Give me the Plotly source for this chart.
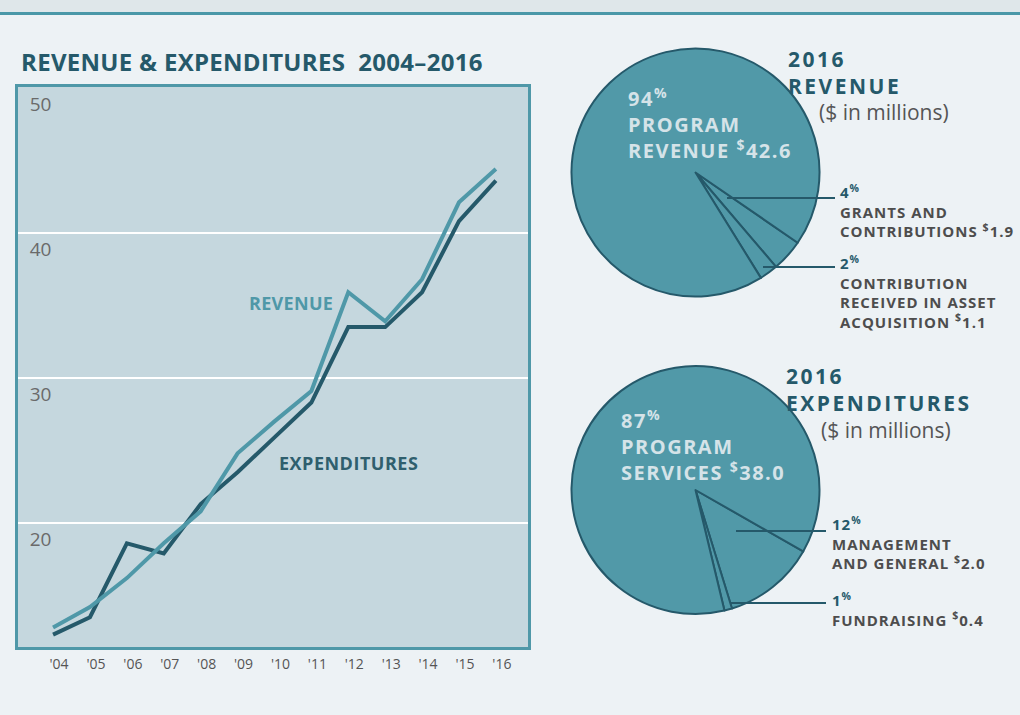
import plotly.graph_objects as go

# ---------------- data ----------------
years = [2004, 2005, 2006, 2007, 2008, 2009, 2010, 2011, 2012, 2013, 2014, 2015, 2016]
year_labels = ["'04", "'05", "'06", "'07", "'08", "'09", "'10", "'11", "'12", "'13", "'14", "'15", "'16"]
revenue = [12.8, 14.2, 16.2, 18.6, 20.8, 24.8, 27.0, 29.1, 35.9, 33.9, 36.8, 42.1, 44.4]
expenditures = [12.3, 13.5, 18.6, 17.9, 21.3, 23.5, 25.9, 28.3, 33.5, 33.5, 35.9, 40.8, 43.6]
y_ticks = [20, 30, 40, 50]

rev_pie_labels = ["Grants and contributions", "Contribution received in asset acquisition", "Program revenue"]
rev_pie_values = [1.9, 1.1, 42.6]
exp_pie_labels = ["Management and general", "Fundraising", "Program services"]
exp_pie_values = [12, 1, 87]

# ---------------- style ----------------
W, H = 1020, 715
BG = "#EDF2F5"
TEAL = "#4F98A8"
DARK = "#25596A"
PLOT_BG = "#C5D7DE"
GRAY = "#5E5E5E"
LABEL_GRAY = "#4D4D4D"
PIE_TEXT = "#D5E3E8"
FONT = "Open Sans"


def px(x):
    return x / W


def py(y):
    return 1 - y / H


fig = go.Figure()

fig.add_trace(go.Scatter(x=years, y=expenditures, mode="lines",
                         line=dict(color=DARK, width=4), hoverinfo="skip",
                         showlegend=False, xaxis="x", yaxis="y"))
fig.add_trace(go.Scatter(x=years, y=revenue, mode="lines",
                         line=dict(color=TEAL, width=4), hoverinfo="skip",
                         showlegend=False, xaxis="x", yaxis="y"))

pie_r = 124
for cy, labels, values, rot in [(172.5, rev_pie_labels, rev_pie_values, 124.5),
                                (490, exp_pie_labels, exp_pie_values, 119.7)]:
    cx = 695.5
    fig.add_trace(go.Pie(
        labels=labels, values=values, sort=False, direction="clockwise",
        rotation=rot, textinfo="none", hoverinfo="skip", showlegend=False,
        marker=dict(colors=["#5199A8"] * 3, line=dict(color=DARK, width=2)),
        domain=dict(x=[px(cx - pie_r), px(cx + pie_r)],
                    y=[py(cy + pie_r), py(cy - pie_r)]),
    ))

fig.update_layout(
    width=W, height=H, margin=dict(l=0, r=0, t=0, b=0),
    paper_bgcolor=BG, plot_bgcolor=PLOT_BG,
    font=dict(family=FONT, color=GRAY),
    xaxis=dict(domain=[px(18), px(528)], range=[2003.05, 2016.87],
               tickvals=years, ticktext=year_labels, showgrid=False,
               zeroline=False, showline=True, mirror=True, linecolor=TEAL,
               linewidth=3, ticks="", ticklabelshift=6, ticklabelstandoff=2,
               tickfont=dict(size=14, color="#555555", family=FONT)),
    yaxis=dict(domain=[py(647), py(87)], range=[11.45, 50.05],
               tickvals=y_ticks, showgrid=True, gridcolor="white", gridwidth=2,
               zeroline=False, showline=True, mirror=True, linecolor=TEAL,
               linewidth=3, ticks="", ticklabelposition="inside bottom",
               ticklabelstandoff=11, ticklabelshift=3,
               tickfont=dict(size=19, color="#6A6A6A", family=FONT)),
)

# top band
fig.add_shape(type="rect", xref="paper", yref="paper", x0=0, x1=1,
              y0=py(12), y1=1, fillcolor="#DFE7EA", line_width=0, layer="above")
fig.add_shape(type="line", xref="paper", yref="paper", x0=0, x1=1,
              y0=py(13.5), y1=py(13.5), line=dict(color="#4A98A8", width=3))

ann = []


def ls(s, sp):
    return f'<span style="letter-spacing:{sp}px">{s}</span>'


def text(x, y, s, size, color, bold=True, xanchor="left", yanchor="middle", sp=0):
    body = ls(s, sp) if sp else s
    ann.append(dict(x=px(x), y=py(y), xref="paper", yref="paper",
                    text=f"<b>{body}</b>" if bold else body, showarrow=False,
                    xanchor=xanchor, yanchor=yanchor, align="left",
                    font=dict(size=size, color=color, family=FONT)))


def colored(s, c):
    return f'<span style="color:{c}">{s}</span>'


text(19, 61, "REVENUE &amp; EXPENDITURES  2004–2016", 24, DARK, sp=0.3)
text(291, 303, "REVENUE", 18, TEAL, xanchor="center", sp=0.3)
text(348, 463, "EXPENDITURES", 18, "#2F5F6E", xanchor="center", sp=0.5)

# revenue pie texts
text(626, 124, "94<sup>%</sup><br>PROGRAM<br>REVENUE <sup>$</sup>42.6", 20, PIE_TEXT, sp=1.5)
text(786, 72.5, "2016<br>REVENUE", 21, DARK, sp=2.5)
text(817, 112, "($ in millions)", 21, "#555555", bold=False)

text(838, 211, colored("4<sup>%</sup>", DARK) + "<br>GRANTS AND<br>CONTRIBUTIONS <sup>$</sup>1.9",
     15, LABEL_GRAY, sp=1)
text(838, 291.5, colored("2<sup>%</sup>", DARK) + "<br>CONTRIBUTION<br>RECEIVED IN ASSET<br>ACQUISITION <sup>$</sup>1.1",
     15, LABEL_GRAY, sp=1)

# expenditures pie texts
text(619, 445, "87<sup>%</sup><br>PROGRAM<br>SERVICES <sup>$</sup>38.0", 20, PIE_TEXT, sp=1.5)
text(784, 390, "2016<br>EXPENDITURES", 21, DARK, sp=2.5)
text(819, 430, "($ in millions)", 21, "#555555", bold=False)

text(830, 543, colored("12<sup>%</sup>", DARK) + "<br>MANAGEMENT<br>AND GENERAL <sup>$</sup>2.0",
     15, LABEL_GRAY, sp=1)
text(830, 609, colored("1<sup>%</sup>", DARK) + "<br>FUNDRAISING <sup>$</sup>0.4",
     15, LABEL_GRAY, sp=1)

fig.update_layout(annotations=ann)

# leader lines
for x0, x1, y in [(727, 835, 198), (763, 835, 267), (736, 826, 531), (730, 826, 603)]:
    fig.add_shape(type="line", xref="paper", yref="paper", x0=px(x0), x1=px(x1),
                  y0=py(y), y1=py(y), line=dict(color=DARK, width=2))

fig.write_html("out.html", config={"displayModeBar": False, "staticPlot": True},
               post_script="document.body.style.margin='0px';document.body.style.overflow='hidden';")
